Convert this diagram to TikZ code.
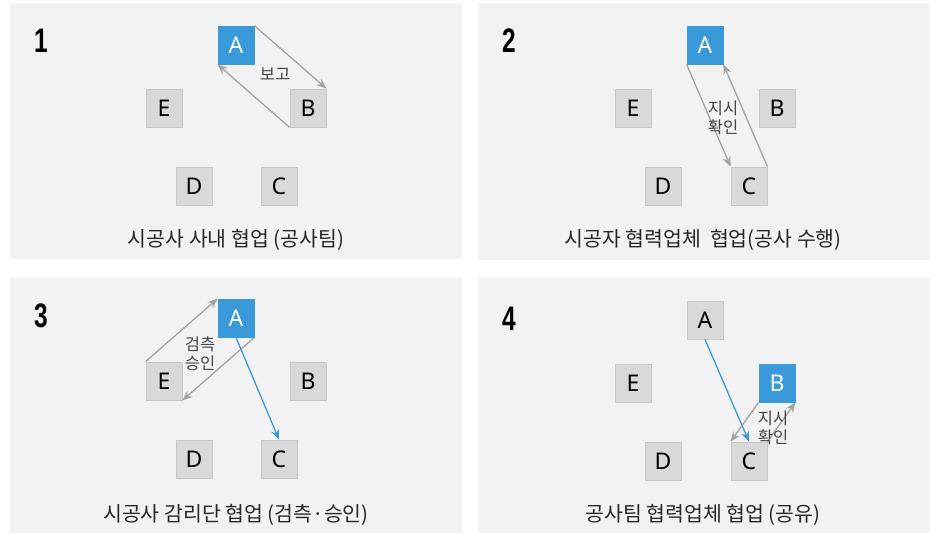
\documentclass[tikz,border=0pt]{standalone}
\usepackage{fontspec}
\setmainfont{Noto Sans}
\newfontfamily\kr{Noto Sans CJK KR}
\newfontfamily\numfont{Liberation Sans}
\usetikzlibrary{arrows.meta}
\definecolor{panelbg}{HTML}{F2F2F2}
\definecolor{boxfill}{HTML}{D9D9D9}
\definecolor{boxline}{HTML}{C8C8C8}
\definecolor{bluef}{HTML}{3A99D9}
\definecolor{greyarr}{HTML}{A3A3A3}
\definecolor{captxt}{HTML}{262626}
\definecolor{lbltxt}{HTML}{444444}
\tikzset{
  panel/.style={fill=panelbg, draw=none},
  gbox/.style={draw=boxline, line width=0.8pt, fill=boxfill, minimum width=36pt, minimum height=38pt, inner sep=0pt, font=\fontsize{23}{23}\selectfont, text=black},
  bbox/.style={gbox, draw=bluef, fill=bluef, text=white},
  garrow/.style={draw=greyarr, line width=1.3pt, -{Stealth[length=10pt,width=8pt]}},
  barrow/.style={draw=bluef, line width=1.3pt, -{Stealth[length=10pt,width=8pt]}},
  caption/.style={font=\kr\fontsize{20.5}{20.5}\selectfont, text=captxt, inner sep=0pt},
  lbl/.style={font=\kr\fontsize{16.5}{19}\selectfont, text=lbltxt, align=center, inner sep=0pt},
  num/.style={font=\numfont\bfseries\fontsize{34}{34}\selectfont, text=black, inner sep=0pt, xscale=0.72},
}
\begin{document}
\begin{tikzpicture}[x=1pt,y=-1pt]
\useasboundingbox (0,0) rectangle (935,533);
\fill[white] (0,0) rectangle (935,533);
% panels
\path[panel] (10,3) rectangle (462,259);
\path[panel] (478,3) rectangle (930,260);
\path[panel] (10,278) rectangle (462,533);
\path[panel] (478,278) rectangle (930,533);

% ---------- panel 1
\node[num] (n1) at (41,41) {1};
\node[bbox] (A1) at (236,45) {A};
\node[gbox] (E1) at (164,108) {E};
\node[gbox] (B1) at (308,108) {B};
\node[gbox] (D1) at (194,186) {D};
\node[gbox] (C1) at (279,186) {C};
\draw[garrow] (A1.north east) -- (B1.north east);
\draw[garrow] (B1.south west) -- (A1.south west);
\node[lbl] (L1) at (275,74) {보고};
\node[caption] (T1) at (236,240) {시공사 사내 협업 (공사팀)};

% ---------- panel 2
\node[num] (n2) at (509,41) {2};
\node[bbox] (A2) at (705,45) {A};
\node[gbox] (E2) at (633,108) {E};
\node[gbox] (B2) at (777,108) {B};
\node[gbox] (D2) at (663,186) {D};
\node[gbox] (C2) at (749,186) {C};
\draw[garrow] (A2.south west) -- (C2.north west);
\draw[garrow] (C2.north east) -- (A2.south east);
\node[lbl] (L2) at (723,118) {지시\\확인};
\node[caption] (T2) at (703,240) {시공자 협력업체\ \ 협업(공사 수행)};

% ---------- panel 3
\node[num] (n3) at (41,316) {3};
\node[bbox] (A3) at (236,318) {A};
\node[gbox] (E3) at (164,381) {E};
\node[gbox] (B3) at (308,381) {B};
\node[gbox] (D3) at (194,459) {D};
\node[gbox] (C3) at (279,459) {C};
\draw[garrow] (E3.north west) -- (A3.north west);
\draw[garrow] (A3.south east) -- (E3.south east);
\draw[barrow] (A3.south) -- (C3.north);
\node[lbl] (L3) at (200,354) {검측\\승인};
\node[caption] (T3) at (236,515) {시공사 감리단 협업 (검측·승인)};

% ---------- panel 4
\node[num] (n4) at (509,319) {4};
\node[gbox] (A4) at (705,320) {A};
\node[gbox] (E4) at (633,383) {E};
\node[bbox] (B4) at (777,383) {B};
\node[gbox] (D4) at (663,461) {D};
\node[gbox] (C4) at (749,461) {C};
\draw[barrow] (A4.south) -- (C4.north);
\draw[garrow] (B4.south west) -- (C4.north west);
\draw[garrow] (C4.north east) -- (B4.south east);
\node[lbl] (L4) at (773,428) {지시\\확인};
\node[caption] (T4) at (703,515) {공사팀 협력업체 협업 (공유)};
\end{tikzpicture}
\end{document}
